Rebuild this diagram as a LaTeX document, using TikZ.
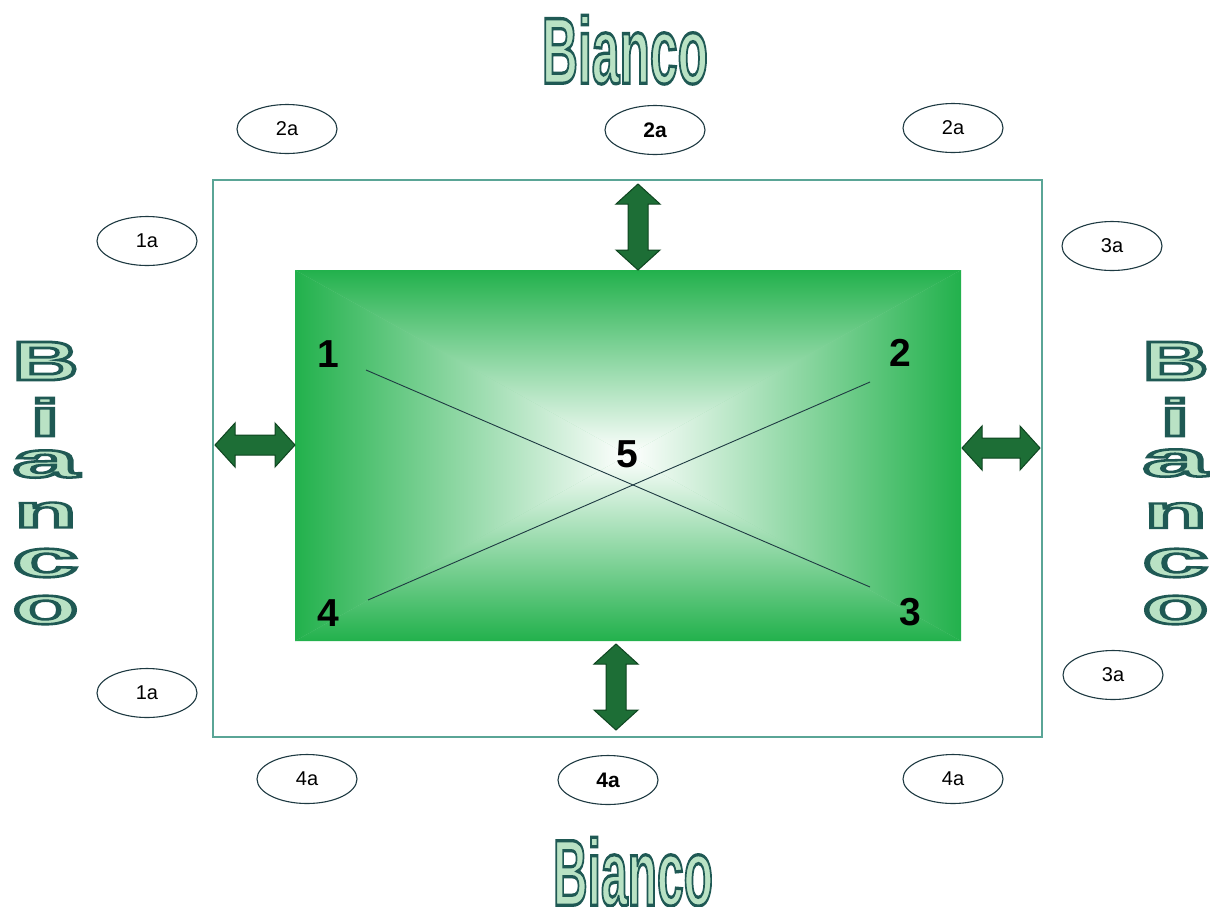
\documentclass[tikz,border=0pt]{standalone}
\usepackage{fontspec}
\setmainfont{Liberation Sans}
\usepackage{graphicx}
\usetikzlibrary{shapes.geometric}
\definecolor{rgreen}{HTML}{22B14C}
\definecolor{arrfill}{HTML}{1D6E36}
\definecolor{arrdraw}{HTML}{0E4520}
\definecolor{framec}{HTML}{5AA596}
\definecolor{ellc}{HTML}{1E3A42}
\definecolor{wfill}{HTML}{B9E2C4}
\newcommand{\outl}[2]{{\color{wfill}\special{pdf:literal direct 2 Tr #1 w 0.12 0.35 0.33 RG}#2\special{pdf:literal direct 0 Tr}}}
\newcommand{\wa}[4]{\resizebox{#1pt}{#2pt}{\outl{#3}{\bfseries #4}}}
\newcommand{\darrow}[4]{% name, center, rotation, length
  \begin{scope}[shift={#2}, rotate=#3]
    \path[arr] (-#4/2,0) -- (-#4/2+20,-22) -- (-#4/2+20,-10) -- (#4/2-20,-10) -- (#4/2-20,-22)
      -- (#4/2,0) -- (#4/2-20,22) -- (#4/2-20,10) -- (-#4/2+20,10) -- (-#4/2+20,22) -- cycle;
    \coordinate (#1) at (0,0);
  \end{scope}}
\begin{document}
\begin{tikzpicture}[x=1pt,y=-1pt,
  lab/.style={ellipse, draw=ellc, line width=1.1pt, minimum width=100pt, minimum height=49pt, inner sep=0pt, font=\fontsize{20}{22}\selectfont},
  labb/.style={lab, font=\fontsize{21}{23}\selectfont\bfseries},
  num/.style={inner sep=0pt, font=\fontsize{39}{40}\selectfont\bfseries},
  arr/.style={draw=arrdraw, fill=arrfill, line width=1pt, line join=miter},
  wd/.style={inner sep=0pt}
]
\useasboundingbox (0,0) rectangle (1210,906);
\fill[white] (0,0) rectangle (1210,906);
% outer frame
\draw[framec, line width=1.3pt] (213,180) rectangle (1042,737);
% green gradient rectangle
\fill[rgreen!50!white] (295,270) rectangle (961,641);
\shade[top color=rgreen, bottom color=white] (295,270) -- (961,270) -- (628,455) -- cycle;
\shade[bottom color=rgreen, top color=white] (295,641) -- (961,641) -- (628,455) -- cycle;
\shade[left color=rgreen, right color=white] (295,270) -- (295,641) -- (628,455) -- cycle;
\shade[right color=rgreen, left color=white] (961,270) -- (961,641) -- (628,455) -- cycle;
\node[inner sep=0pt, minimum width=666pt, minimum height=371pt] (plate) at (628,455.5) {};
% diagonals
\coordinate (d1a) at (366,370); \coordinate (d1b) at (870,587);
\coordinate (d2a) at (368,600); \coordinate (d2b) at (870,382);
\draw[ellc, line width=0.9pt] (d1a) -- (d1b);
\draw[ellc, line width=0.9pt] (d2a) -- (d2b);
% corner numbers
\node[num] (n1) at (328,354) {1};
\node[num] (n2) at (900,353) {2};
\node[num] (n3) at (910,612) {3};
\node[num] (n4) at (328,613) {4};
\node[num] (n5) at (627,454) {5};
% double arrows
\darrow{at}{(638,227)}{90}{86}
\darrow{ab}{(616,687)}{90}{86}
\darrow{al}{(255,445)}{0}{80}
\darrow{ar}{(1001,448)}{0}{78}
% ellipses
\node[lab]  (e2l) at (287,129) {2a};
\node[labb] (e2m) at (655,130) {2a};
\node[lab]  (e2r) at (953,128) {2a};
\node[lab]  (e1u) at (147,241) {1a};
\node[lab]  (e3u) at (1112,246) {3a};
\node[lab]  (e1d) at (147,693) {1a};
\node[lab]  (e3d) at (1113,675) {3a};
\node[lab]  (e4l) at (307,779) {4a};
\node[labb] (e4m) at (608,780) {4a};
\node[lab]  (e4r) at (953,779) {4a};
% Bianco words
\node[wd, anchor=north] (wt) at (625,15) {\wa{166}{68}{0.35}{Bianco}};
\node[wd, anchor=north] (wb) at (633,837) {\wa{160}{68}{0.35}{Bianco}};
% vertical Bianco left
\node[wd] (lB) at (45.5,361) {\wa{66}{38}{0.5}{B}};
\node[wd] (li) at (45,417) {\wa{30}{38}{0.5}{i}};
\node[wd] (la) at (45.5,464) {\wa{66}{27}{0.5}{a}};
\node[wd] (ln) at (45.5,515) {\wa{62}{25}{0.5}{n}};
\node[wd] (lc) at (45.5,563) {\wa{66}{28}{0.5}{c}};
\node[wd] (lo) at (45.5,610) {\wa{66}{28}{0.5}{o}};
% vertical Bianco right
\node[wd] (rB) at (1175.5,361) {\wa{66}{38}{0.5}{B}};
\node[wd] (ri) at (1175,417) {\wa{30}{38}{0.5}{i}};
\node[wd] (ra) at (1175.5,463) {\wa{66}{27}{0.5}{a}};
\node[wd] (rn) at (1175.5,515.5) {\wa{62}{25}{0.5}{n}};
\node[wd] (rc) at (1175.5,563) {\wa{66}{28}{0.5}{c}};
\node[wd] (ro) at (1175.5,610) {\wa{66}{28}{0.5}{o}};
\end{tikzpicture}
\end{document}
